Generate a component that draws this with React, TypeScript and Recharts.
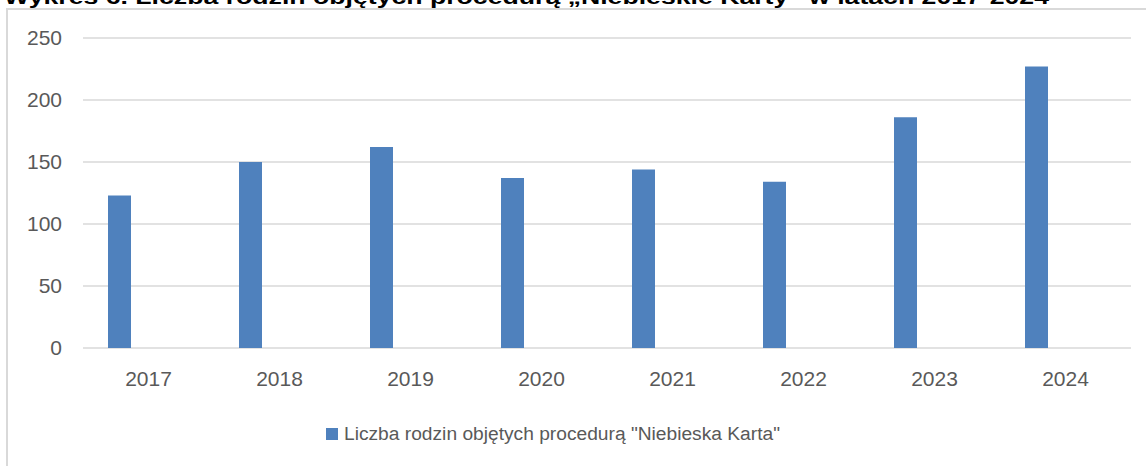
import React from 'react';
import { BarChart, Bar, XAxis, YAxis, CartesianGrid, Legend } from 'recharts';

const years = ['2017', '2018', '2019', '2020', '2021', '2022', '2023', '2024'];
const families = [123, 150, 162, 137, 144, 134, 186, 227];
const yTicks = [0, 50, 100, 150, 200, 250];
const seriesName = 'Liczba rodzin objętych procedurą "Niebieska Karta"';
const title = 'Wykres 6. Liczba rodzin objętych procedurą „Niebieskie Karty” w latach 2017-2024';

const data = years.map((y, i) => ({ year: y, families: families[i] }));

const FONT = '"Liberation Sans", Arial, sans-serif';
const BLUE = '#4f81bd';

const LegendContent = () => (
  <div style={{ display: 'flex', justifyContent: 'center', alignItems: 'center', height: 24, fontFamily: FONT, fontSize: 19.2, color: '#595959' }}>
    <span style={{ display: 'inline-block', width: 12, height: 12, background: BLUE, marginRight: 6 }} />
    <span>{seriesName}</span>
  </div>
);

export default function App() {
  return (
    <div style={{ position: 'absolute', left: 0, top: 0, width: 1146, height: 466, overflow: 'hidden', background: '#fff' }}>
      <svg width={1146} height={20} style={{ position: 'absolute', left: 0, top: 0 }}>
        <text x={4} y={4} fontFamily={FONT} fontWeight="bold" fontSize={20} fill="#000" textLength={1045} lengthAdjust="spacingAndGlyphs">
          {title}
        </text>
      </svg>
      <div style={{ position: 'absolute', left: 6, top: 8, width: 1300, height: 600, borderLeft: '2px solid #d9d9d9', borderTop: '2px solid #d9d9d9' }} />
      <div style={{ position: 'absolute', left: 0, top: 0 }}>
        <BarChart width={1146} height={466} data={data} margin={{ top: 38, right: 15, left: 0, bottom: 44 }} barSize={23} barGap={35}>
          <CartesianGrid vertical={false} stroke="#d9d9d9" strokeWidth={1.5} />
          <XAxis dataKey="year" axisLine={false} tickLine={false} tickSize={0} tickMargin={23} height={50} interval={0}
            tick={{ fill: '#595959', fontSize: 21, fontFamily: FONT }} />
          <YAxis width={83} domain={[0, 250]} ticks={yTicks} axisLine={false} tickLine={false} tickSize={0} tickMargin={21}
            tick={{ fill: '#595959', fontSize: 21, fontFamily: FONT }} />
          <Legend verticalAlign="bottom" height={24} content={<LegendContent />}
            wrapperStyle={{ position: 'absolute', left: -20, top: 422, width: 1146 }} />
          <Bar dataKey="families" name={seriesName} fill={BLUE} isAnimationActive={false} />
          <Bar dataKey="placeholder" legendType="none" fill="none" isAnimationActive={false} />
        </BarChart>
      </div>
    </div>
  );
}
